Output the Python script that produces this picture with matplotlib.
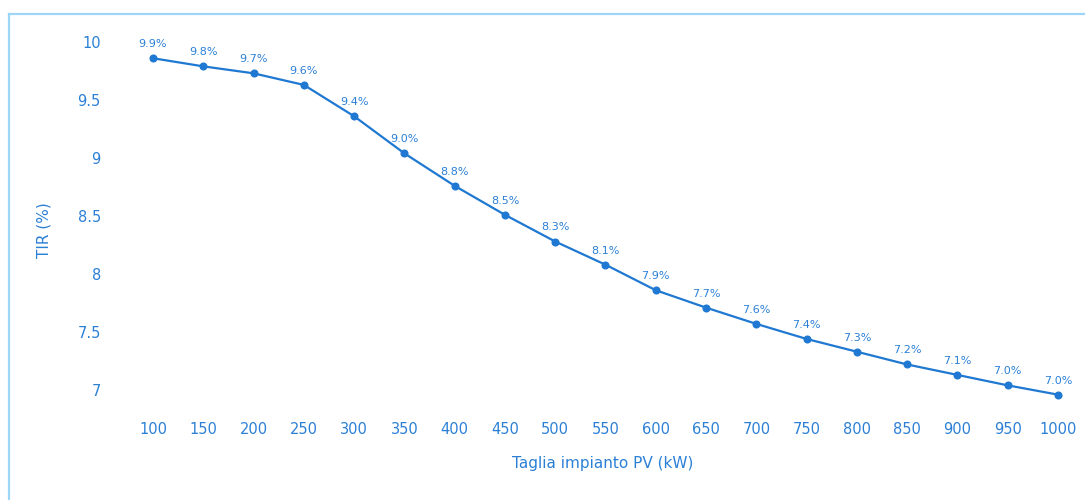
"""
TIR vs PV plant size line chart.
"""
import matplotlib
matplotlib.use("Agg")
import matplotlib.pyplot as plt
from matplotlib.lines import Line2D

taglia_kw = [100, 150, 200, 250, 300, 350, 400, 450, 500, 550,
             600, 650, 700, 750, 800, 850, 900, 950, 1000]
tir = [9.86, 9.79, 9.73, 9.63, 9.36, 9.04, 8.76, 8.51, 8.28, 8.08,
       7.86, 7.71, 7.57, 7.44, 7.33, 7.22, 7.13, 7.04, 6.96]
y_ticks = [7, 7.5, 8, 8.5, 9, 9.5, 10]
y_tick_labels = ["7", "7.5", "8", "8.5", "9", "9.5", "10"]

BLUE = "#1f78d1"
TEXT = "#2b80d6"
BORDER = "#9dd6f8"

W, H = 1085, 500
fig = plt.figure(figsize=(W / 100, H / 100), dpi=100)
plt.rcParams["font.family"] = ["DejaVu Sans"]

# axes placed in pixels so the ticks land where the reference has them
ax = fig.add_axes([130 / W, 1 - 405 / H, 945 / W, 380 / H])
ax.plot(taglia_kw, tir, color=BLUE, lw=1.6, marker="o", ms=4.8, zorder=3)
for x, y in zip(taglia_kw, tir):
    ax.annotate(f"{y:.1f}%", (x, y), xytext=(0, 6.5), textcoords="offset points",
                ha="center", va="bottom", fontsize=8, color=TEXT)

ax.set_xlim(100 - 23 / 1.00556, 1000 + 17 / 1.00556)
ax.set_ylim(7 - 15 / 116, 10 + 17 / 116)
ax.set_xticks(taglia_kw)
ax.set_yticks(y_ticks)
ax.set_yticklabels(y_tick_labels)
ax.tick_params(axis="y", length=0, pad=21, labelsize=10.5, labelcolor=TEXT)
ax.tick_params(axis="x", length=0, pad=12, labelsize=10.5, labelcolor=TEXT)
for s in ax.spines.values():
    s.set_visible(False)

ax.set_xlabel("Taglia impianto PV (kW)", fontsize=11, color=TEXT, labelpad=14)
ax.set_ylabel("TIR (%)", fontsize=11, color=TEXT, labelpad=19, y=0.46)

# light frame around the card (top and left edges only visible)
fig.add_artist(Line2D([9 / W, 1], [1 - 14 / H, 1 - 14 / H], color=BORDER, lw=1.6,
                      transform=fig.transFigure))
fig.add_artist(Line2D([9 / W, 9 / W], [0, 1 - 14 / H], color=BORDER, lw=1.6,
                      transform=fig.transFigure))

fig.savefig("out.png", dpi=100)
